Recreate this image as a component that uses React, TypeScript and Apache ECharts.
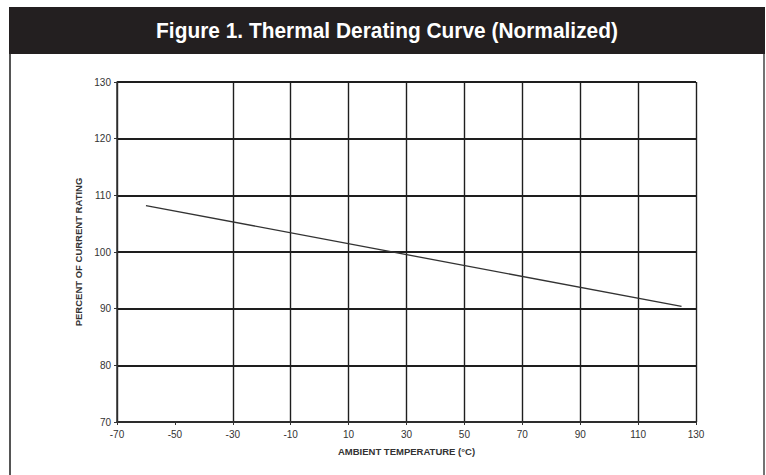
import React, { useEffect, useRef } from "react";
import * as echarts from "echarts";

const titleText = "Figure 1. Thermal Derating Curve (Normalized)";
const xAxisName = "AMBIENT TEMPERATURE (°C)";
const yAxisName = "PERCENT OF CURRENT RATING";
const temperatures = [-60, 125];
const percentRating = [108.2, 90.4];

export default function App() {
  const ref = useRef<HTMLDivElement>(null);
  useEffect(() => {
    if (!ref.current) return;
    const chart = echarts.init(ref.current, null, { renderer: "svg" });
    const gridC = "#1e1e1e";
    const vColors = [gridC, "rgba(0,0,0,0)", gridC, gridC, gridC, gridC, gridC, gridC, gridC, gridC, gridC];
    chart.setOption({
      animation: false,
      backgroundColor: "#ffffff",
      graphic: [
        { type: "rect", shape: { x: 9, y: 7, width: 756, height: 47 }, style: { fill: "#231f20" } },
        { type: "line", shape: { x1: 10, y1: 54, x2: 10, y2: 475 }, style: { stroke: "#555", lineWidth: 2 } },
        { type: "line", shape: { x1: 764, y1: 54, x2: 764, y2: 475 }, style: { stroke: "#444", lineWidth: 1.5 } },
        {
          type: "text",
          x: 387,
          y: 31,
          scaleX: 0.95,
          style: {
            text: titleText,
            fill: "#ffffff",
            font: "bold 22px 'Liberation Sans', Arial, sans-serif",
            textAlign: "center",
            textVerticalAlign: "middle",
          },
        },
      ],
      grid: { left: 117, right: 70, top: 82, bottom: 53 },
      xAxis: {
        type: "value",
        min: -70,
        max: 130,
        interval: 20,
        name: xAxisName,
        nameLocation: "middle",
        nameGap: 24,
        nameTextStyle: { fontFamily: "Liberation Sans, Arial", fontWeight: "bold", fontSize: 9.5, color: "#333" },
        axisLine: { show: true, onZero: false, lineStyle: { color: "#333", width: 1.5 } },
        axisTick: { show: true, length: 3, lineStyle: { color: "#333" } },
        axisLabel: { fontFamily: "Liberation Sans, Arial", fontSize: 10, color: "#333", margin: 7 },
        splitLine: { show: true, lineStyle: { color: vColors, width: 1.4 } },
      },
      yAxis: {
        type: "value",
        min: 70,
        max: 130,
        interval: 10,
        name: yAxisName,
        nameLocation: "middle",
        nameGap: 27,
        nameTextStyle: { fontFamily: "Liberation Sans, Arial", fontWeight: "bold", fontSize: 9.5, color: "#333" },
        axisLine: { show: true, onZero: false, lineStyle: { color: "#333", width: 1.5 } },
        axisTick: { show: true, length: 3, lineStyle: { color: "#333" } },
        axisLabel: { fontFamily: "Liberation Sans, Arial", fontSize: 10, color: "#333", margin: 6 },
        splitLine: { show: true, lineStyle: { color: gridC, width: 1.8 } },
      },
      series: [
        {
          type: "line",
          data: temperatures.map((t, i) => [t, percentRating[i]]),
          showSymbol: false,
          lineStyle: { color: "#333", width: 1.3 },
        },
      ],
    });
    return () => chart.dispose();
  }, []);
  return (
    <div
      ref={ref}
      style={{ position: "fixed", left: 0, top: 0, width: 766, height: 475 }}
    />
  );
}
